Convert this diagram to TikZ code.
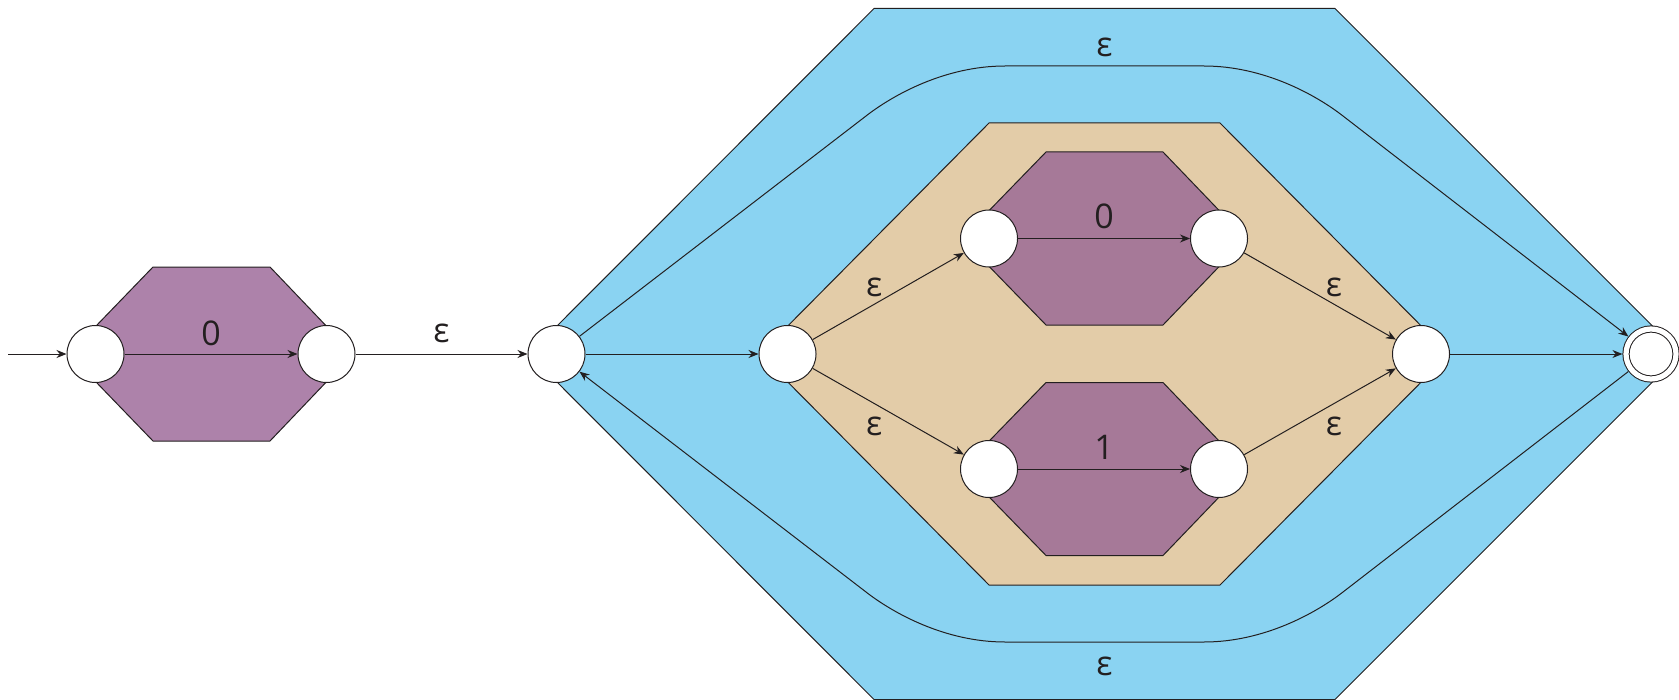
\documentclass[tikz,border=0pt]{standalone}
\usepackage{fontspec}
\setmainfont{Open Sans}
\usetikzlibrary{arrows.meta}

\definecolor{ink}{RGB}{35,31,32}
\definecolor{outerblue}{RGB}{138,211,242}
\definecolor{tanfill}{RGB}{227,204,168}
\definecolor{plum}{RGB}{173,130,170}
\definecolor{plumdark}{RGB}{166,121,152}

\tikzset{
  region/.style={draw=ink, line width=0.5pt, line join=miter},
  state/.style={circle, draw=ink, fill=white, line width=0.5pt,
                minimum size=28.5pt, inner sep=0pt},
  accepting/.style={double=white, double distance=2.6pt,
                    minimum size=25pt, outer sep=1.8pt},
  trans/.style={draw=ink, line width=0.5pt,
                -{Stealth[length=5pt,width=4pt]}},
  lbl/.style={font=\fontsize{17}{17}\selectfont, text=ink,
              inner sep=0pt, midway},
}

\begin{document}
\begin{tikzpicture}[x=0.5pt,y=-0.5pt]
\useasboundingbox (0,0) rectangle (1679,700);

% nested regions of the automaton
\fill[outerblue] (529,354) -- (874,8.5) -- (1335,8.5) -- (1680.5,354)
  -- (1335,699.5) -- (874,699.5) -- cycle;
\draw[region] (529,354) -- (874,8.5) -- (1335,8.5) -- (1680.5,354)
  -- (1335,699.5) -- (874,699.5) -- cycle;
\draw[region, fill=tanfill] (760,354) -- (989,123) -- (1220,123) -- (1449,354)
  -- (1220,585) -- (989,585) -- cycle;
\draw[region, fill=plumdark] (962,238.5) -- (1046,152) -- (1163,152)
  -- (1246,238.5) -- (1163,325) -- (1046,325) -- cycle;
\draw[region, fill=plumdark] (962,469) -- (1046,382.5) -- (1163,382.5)
  -- (1246,469) -- (1163,555.5) -- (1046,555.5) -- cycle;
\draw[region, fill=plum] (69,354) -- (153,267) -- (270,267) -- (353,354)
  -- (270,441) -- (153,441) -- cycle;

% states
\coordinate (start) at (8,354);
\node[state] (A) at (95.5,354) {};
\node[state] (B) at (326.5,354) {};
\node[state] (C) at (556.5,354) {};
\node[state] (D) at (787.5,354) {};
\node[state] (G) at (989,238.5) {};
\node[state] (H) at (1219,238.5) {};
\node[state] (L) at (989,469) {};
\node[state] (M) at (1219,469) {};
\node[state] (E) at (1421,354) {};
\node[state, accepting] (F) at (1651,354) {};

% transitions
\draw[trans] (start) -- (A);
\draw[trans] (A) -- node[lbl, shift={(0,-20.5)}] {0} (B);
\draw[trans] (B) -- node[lbl, shift={(0,-20.5)}] {ε} (C);
\draw[trans] (C) -- (D);
\draw[trans] (D) -- node[lbl, shift={(-14,-9)}] {ε} (G);
\draw[trans] (D) -- node[lbl, shift={(-14,15)}] {ε} (L);
\draw[trans] (G) -- node[lbl, shift={(0,-22)}] {0} (H);
\draw[trans] (L) -- node[lbl, shift={(0,-22)}] {1} (M);
\draw[trans] (H) -- node[lbl, shift={(14,-9)}] {ε} (E);
\draw[trans] (M) -- node[lbl, shift={(14,15)}] {ε} (E);
\draw[trans] (E) -- (F);

% skip over the loop
\draw[trans] (C) -- (866,116) .. controls (893,95) and (945,66) .. (1005,66)
  -- node[lbl, shift={(0,-19)}] {ε} (1204,66)
  .. controls (1264,66) and (1316,95) .. (1343,116) -- (F);
% back edge for repetition
\draw[trans] (F) -- (1343,592) .. controls (1316,613) and (1264,642) .. (1204,642)
  -- node[lbl, shift={(0,24)}] {ε} (1005,642)
  .. controls (945,642) and (893,613) .. (866,592) -- (C);
\end{tikzpicture}
\end{document}
